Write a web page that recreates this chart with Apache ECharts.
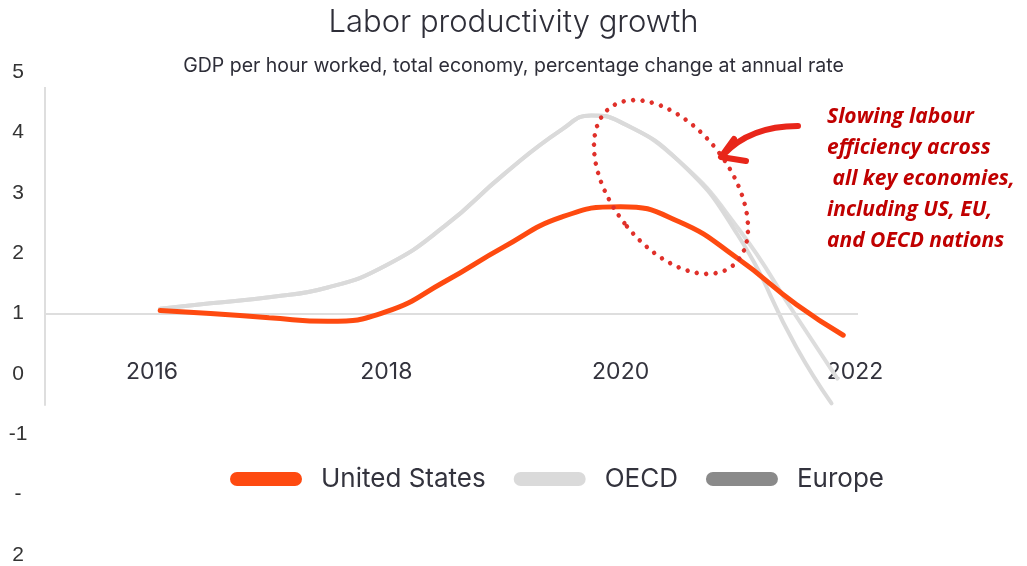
<!DOCTYPE html>
<html>
<head>
<meta charset="utf-8">
<script src="https://cdn.jsdelivr.net/npm/echarts@6/dist/echarts.min.js"></script>
<style>
  html, body { margin: 0; padding: 0; background: #ffffff; }
  #chart { width: 1027px; height: 566px; }
</style>
</head>
<body>
<div id="chart"></div>
<script>
// ---- data ----
const titleText = 'Labor productivity growth';
const subtitleText = 'GDP per hour worked, total economy, percentage change at annual rate';
const seriesNames = ['United States', 'OECD', 'Europe'];
const xTickValues = [2016, 2018, 2020, 2022];
const yTickValues = [5, 4, 3, 2, 1, 0, -1, -2, -3];
const yTickLabels = ['5', '4', '3', '2', '1', '0', '-1', '-', '2'];

const usYears = [2016.07, 2016.5, 2017, 2017.5, 2018, 2018.5, 2019, 2019.5, 2020, 2020.5, 2021, 2021.5, 2021.9];
const usValues = [1.05, 1.0, 0.93, 0.87, 1.03, 1.53, 2.1, 2.6, 2.77, 2.52, 1.91, 1.15, 0.64];

const oecdYears = [2016.07, 2016.5, 2017, 2017.5, 2018, 2018.5, 2019, 2019.5, 2019.75, 2020, 2020.5, 2021, 2021.5, 2021.8];
const oecdValues = [1.08, 1.17, 1.27, 1.43, 1.8, 2.45, 3.3, 4.05, 4.28, 4.17, 3.52, 2.3, 0.44, -0.49];

const europeYears = [2016.07, 2016.5, 2017, 2017.5, 2018, 2018.5, 2019, 2019.5, 2019.75, 2020, 2020.5, 2021, 2021.5, 2021.85];
const europeValues = [1.08, 1.17, 1.27, 1.43, 1.8, 2.45, 3.3, 4.05, 4.28, 4.17, 3.52, 2.42, 0.95, -0.08];

const annotationLines = ['Slowing labour', 'efficiency across', ' all key economies,', 'including US, EU,', 'and OECD nations'];

function pairs(xs, ys) { return xs.map((x, i) => [x, ys[i]]); }

const X_MIN = 2015.087, X_MAX = 2022.026;
const pillIcon = 'path://M7,0 L65,0 A7,7 0 0 1 65,14 L7,14 A7,7 0 0 1 7,0 Z';

const chart = echarts.init(document.getElementById('chart'), null, { renderer: 'canvas' });

const option = {
  backgroundColor: '#ffffff',
  animation: false,
  title: [
    { text: titleText, left: 'center', top: 2,
      textStyle: { fontFamily: 'Inter', fontWeight: 300, fontSize: 31, color: '#2e2e38' } },
    { text: subtitleText, left: 'center', top: 51,
      textStyle: { fontFamily: 'Inter', fontWeight: 400, fontSize: 19.5, color: '#2e2e38' } }
  ],
  legend: {
    data: [
      { name: seriesNames[0], itemStyle: { color: '#fe4a10' } },
      { name: seriesNames[1], itemStyle: { color: '#dadada' } },
      { name: seriesNames[2], itemStyle: { color: '#8a8a8a' } }
    ],
    left: 225, top: 461,
    icon: pillIcon,
    itemWidth: 72, itemHeight: 14, itemGap: 28,
    textStyle: { fontFamily: 'Inter', fontSize: 26, color: '#33333d', padding: [0, 0, 0, 14] }
  },
  grid: { left: 45, right: 169, top: 72, bottom: 11, containLabel: false },
  xAxis: {
    type: 'value', min: X_MIN, max: X_MAX,
    offset: -181,
    axisLine: { show: false }, axisTick: { show: false }, splitLine: { show: false },
    axisLabel: {
      customValues: xTickValues,
      formatter: v => String(v),
      verticalAlign: 'middle', margin: -2,
      fontFamily: 'Inter', fontSize: 23, color: '#33333d'
    }
  },
  yAxis: {
    type: 'value', min: -3, max: 5, interval: 1,
    axisLine: { show: false }, axisTick: { show: false }, splitLine: { show: false },
    axisLabel: {
      align: 'center', margin: 27,
      formatter: v => { const i = yTickValues.indexOf(v); return i >= 0 ? yTickLabels[i] : ''; },
      fontFamily: 'Liberation Sans', fontSize: 21, color: '#333333'
    }
  },
  series: [
    {
      name: seriesNames[0], type: 'line', z: 5,
      data: pairs(usYears, usValues),
      smooth: 0.5, showSymbol: false, symbol: 'none',
      lineStyle: { color: '#fe4a10', width: 5, cap: 'round' },
      itemStyle: { color: '#fe4a10' }
    },
    {
      name: seriesNames[1], type: 'line', z: 3,
      data: pairs(oecdYears, oecdValues),
      smooth: 0.5, showSymbol: false, symbol: 'none',
      lineStyle: { color: '#dadada', width: 4, cap: 'round' },
      itemStyle: { color: '#dadada' }
    },
    {
      name: seriesNames[2], type: 'line', z: 2,
      data: pairs(europeYears, europeValues),
      smooth: 0.5, showSymbol: false, symbol: 'none',
      lineStyle: { color: '#dddddd', width: 4, cap: 'round' },
      itemStyle: { color: '#8a8a8a' },
      markLine: {
        silent: true, symbol: 'none', label: { show: false },
        lineStyle: { color: '#dedede', width: 2, type: 'solid' },
        data: [
          [{ coord: [X_MIN, 1] }, { coord: [X_MAX, 1] }],
          [{ coord: [X_MIN, 4.75] }, { coord: [X_MIN, -0.53] }]
        ]
      }
    }
  ],
  graphic: [
    {
      type: 'ellipse', x: 671, y: 187, rotation: 0.66, z: 10,
      shape: { cx: 0, cy: 0, rx: 59, ry: 100 },
      style: { fill: 'none', stroke: '#e0302a', lineWidth: 4.5, lineDash: [0, 9.5], lineCap: 'round' }
    },
    {
      type: 'bezierCurve', z: 10,
      shape: { x1: 798, y1: 126, cpx1: 750, cpy1: 126, x2: 723, y2: 155 },
      style: { fill: 'none', stroke: '#e8261a', lineWidth: 6, lineCap: 'round' }
    },
    {
      type: 'polyline', z: 10,
      shape: { points: [[734, 139], [721, 157], [746, 161]] },
      style: { fill: 'none', stroke: '#e8261a', lineWidth: 6, lineCap: 'round', lineJoin: 'round' }
    },
    {
      type: 'text', left: 827, top: 102, z: 10,
      style: {
        text: annotationLines.join('\n'),
        fontFamily: 'Open Sans', fontStyle: 'italic', fontWeight: 'bold', fontSize: 21,
        lineHeight: 30.8, fill: '#c00000'
      }
    }
  ]
};

chart.setOption(option);
</script>
</body>
</html>
